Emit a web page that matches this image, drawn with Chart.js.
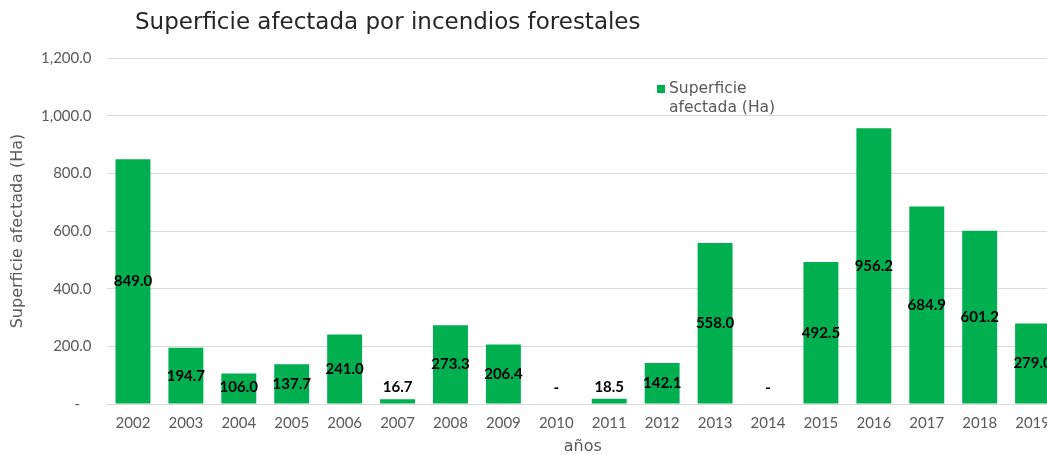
<!DOCTYPE html>
<html><head><meta charset="utf-8">
<script src="https://cdn.jsdelivr.net/npm/chart.js@4"></script>
<style>
html,body{margin:0;padding:0;background:#fff;overflow:hidden;width:1047px;height:455px}
#wrap{position:absolute;left:0;top:0;width:1060px;height:455px}
</style></head>
<body><div id="wrap"><canvas id="c" width="1060" height="455"></canvas></div>
<script>
const categories = ['2002','2003','2004','2005','2006','2007','2008','2009','2010','2011','2012','2013','2014','2015','2016','2017','2018','2019'];
const values = [849.0,194.7,106.0,137.7,241.0,16.7,273.3,206.4,0,18.5,142.1,558.0,0,492.5,956.2,684.9,601.2,279.0];
const yMin = 0, yMax = 1200, yStep = 200;
const chartTitle = 'Superficie afectada por incendios forestales';
const seriesName = 'Superficie afectada (Ha)';
const legendLines = ['Superficie', 'afectada (Ha)'];
const yAxisTitle = 'Superficie afectada (Ha)';
const xAxisTitle = 'años';

const FONT = 'Lato';
const WIDE = '"DejaVu Sans"';
const GREEN = '#00B050';
const GREY = '#595959';

function fmt(v){ return v.toLocaleString('en-US',{minimumFractionDigits:1,maximumFractionDigits:1}); }

const extras = {
  id: 'extras',
  afterDatasetsDraw(chart){
    const ctx = chart.ctx;
    ctx.save();
    const meta = chart.getDatasetMeta(0);
    ctx.font = 'bold 15px ' + FONT;
    ctx.fillStyle = '#000';
    ctx.textAlign = 'center';
    ctx.textBaseline = 'middle';
    meta.data.forEach((bar, i) => {
      const v = values[i];
      const cy = Math.min((bar.y + bar.base) / 2, bar.base - 16);
      ctx.fillText(v === 0 ? '-' : fmt(v), bar.x, cy);
    });
    ctx.font = '23px ' + WIDE;
    ctx.fillStyle = '#262626';
    ctx.textAlign = 'left';
    ctx.fillText(chartTitle, 135, 23);
    ctx.fillStyle = GREEN;
    ctx.fillRect(657, 85, 8, 8);
    ctx.font = '15.5px ' + WIDE;
    ctx.fillStyle = GREY;
    ctx.fillText(legendLines[0], 669, 89);
    ctx.fillText(legendLines[1], 669, 108);
    ctx.restore();
  }
};

new Chart(document.getElementById('c'), {
  type: 'bar',
  data: { labels: categories, datasets: [{ label: seriesName, data: values, backgroundColor: GREEN, barPercentage: 0.66, categoryPercentage: 1.0 }] },
  options: {
    responsive: false,
    animation: false,
    devicePixelRatio: 1,
    layout: { padding: { top: 58, right: 0, bottom: 0, left: 0 } },
    plugins: { legend: { display: false }, title: { display: false }, tooltip: { enabled: false } },
    scales: {
      x: {
        grid: { display: false, drawTicks: false },
        border: { display: true, color: '#d9d9d9' },
        ticks: { color: GREY, font: { family: FONT, size: 15 }, padding: 10, maxRotation: 0, autoSkip: false },
        title: { display: true, text: xAxisTitle, color: GREY, font: { family: WIDE, size: 16, lineHeight: 1 }, padding: { top: 0, bottom: 0 } },
        afterFit: s => { s.height = 51; }
      },
      y: {
        min: yMin, max: yMax,
        grid: { color: '#d9d9d9', drawTicks: false },
        border: { display: false },
        ticks: { stepSize: yStep, color: GREY, font: { family: FONT, size: 15 }, padding: 15,
          callback: v => v === 0 ? '-   ' : fmt(v) },
        title: { display: true, text: yAxisTitle, color: GREY, font: { family: WIDE, size: 16 }, padding: { top: 8, bottom: 0 } },
        afterFit: s => { s.width = 106.5; }
      }
    }
  },
  plugins: [extras]
});
</script>
</body></html>
